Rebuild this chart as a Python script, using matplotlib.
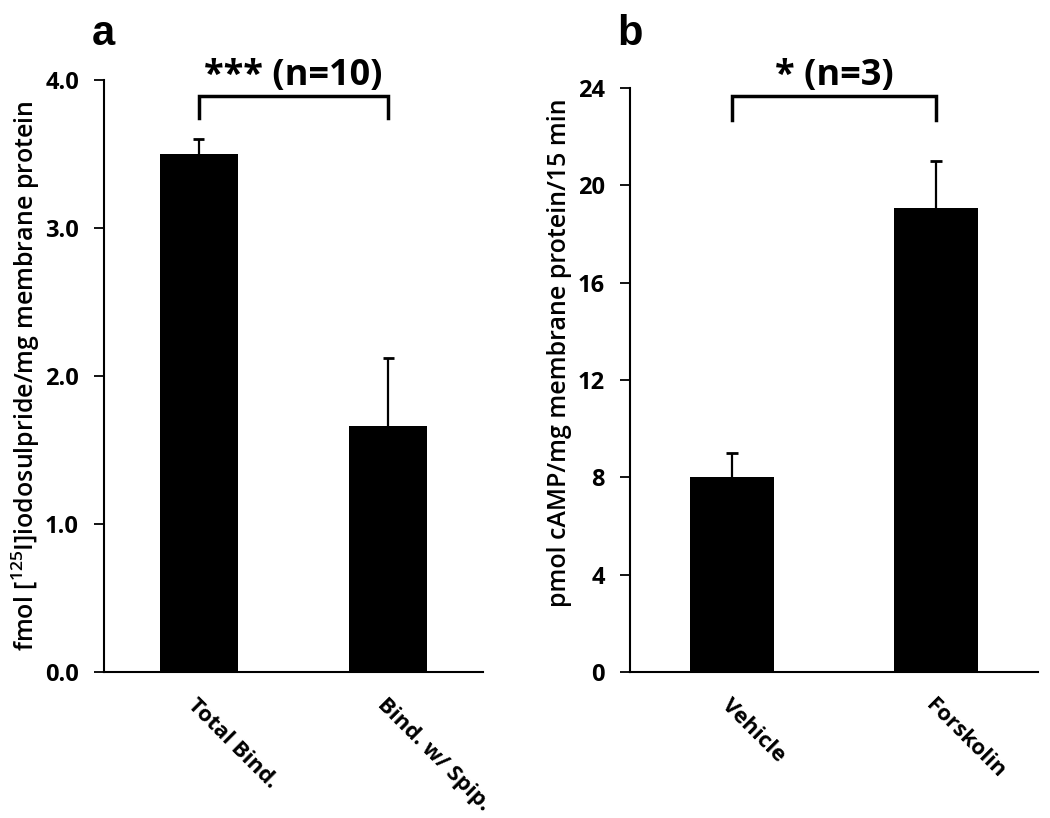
import matplotlib
matplotlib.use("Agg")
import numpy as np
import matplotlib.pyplot as plt

### Data
bind_labels = ['Total Bind.', 'Bind. w/ Spip.']
bind_means = [3.50, 1.66]
bind_err = [0.10, 0.46]

camp_labels = ['Vehicle', 'Forskolin']
camp_means = [8.0, 19.05]
camp_err = [1.0, 1.95]

plt.rcParams['font.family'] = ['Open Sans', 'DejaVu Sans']
plt.rcParams['mathtext.default'] = 'regular'

fig = plt.figure(figsize=(10.5, 8.18), dpi=100)
ax_a = fig.add_axes([0.099, 0.1785, 0.361, 0.7237])
ax_b = fig.add_axes([0.600, 0.1785, 0.3886, 0.714])


def draw_panel(ax, labels, means, err, ylim, yticks, fmt, ylabel, label_xy, bracket, star):
    x = np.arange(len(labels))
    means = np.array(means)
    tops = means + np.array(err)
    ax.bar(x, means, width=0.41, color='black', zorder=2)
    # upper-only error bars
    ax.vlines(x, means, tops, color='black', lw=1.6, zorder=1)
    ax.hlines(tops, x - 0.03, x + 0.03, color='black', lw=2.0, zorder=1)
    ax.set_xlim(-0.5, 1.5)
    ax.set_ylim(*ylim)
    ax.set_yticks(yticks)
    ax.set_yticklabels([fmt.format(t) for t in yticks], fontsize=17, fontweight='bold')
    ax.set_xticks(list(x))
    ax.set_xticklabels(labels, rotation=-45, ha='left', va='top', rotation_mode='anchor',
                       fontsize=16, fontweight='bold')
    ax.tick_params(axis='x', length=0, pad=16)
    ax.tick_params(axis='y', direction='out', length=7, width=1.3, pad=11)
    for s in ['top', 'right']:
        ax.spines[s].set_visible(False)
    for s in ['left', 'bottom']:
        ax.spines[s].set_linewidth(1.5)
    ax.set_ylabel(ylabel, fontsize=18, fontweight='semibold')
    ax.yaxis.set_label_coords(*label_xy)
    # significance bracket
    lo, hi = bracket
    ax.plot([0, 0, 1, 1], [lo, hi, hi, lo], color='black', lw=2.5, clip_on=False,
            solid_joinstyle='miter')
    ax.text(0.5, hi + (ylim[1] - ylim[0]) * 0.004, star, ha='center', va='bottom',
            fontsize=26, fontweight='bold')


draw_panel(ax_a, bind_labels, bind_means, bind_err, (0, 4.0), [0, 1, 2, 3, 4], '{:.1f}',
           'fmol [$^{125}$I]iodosulpride/mg membrane protein', (-0.163, 0.5),
           (3.74, 3.89), '*** (n=10)')
draw_panel(ax_b, camp_labels, camp_means, camp_err, (0, 24), [0, 4, 8, 12, 16, 20, 24], '{:d}',
           'pmol cAMP/mg membrane protein/15 min', (-0.143, 0.547),
           (22.7, 23.67), '* (n=3)')

fig.text(0.087, 0.958, 'a', fontsize=30, fontweight='bold', family='Liberation Sans', va='center')
fig.text(0.588, 0.958, 'b', fontsize=30, fontweight='bold', family='Liberation Sans', va='center')

fig.savefig('out.png', dpi=100)
